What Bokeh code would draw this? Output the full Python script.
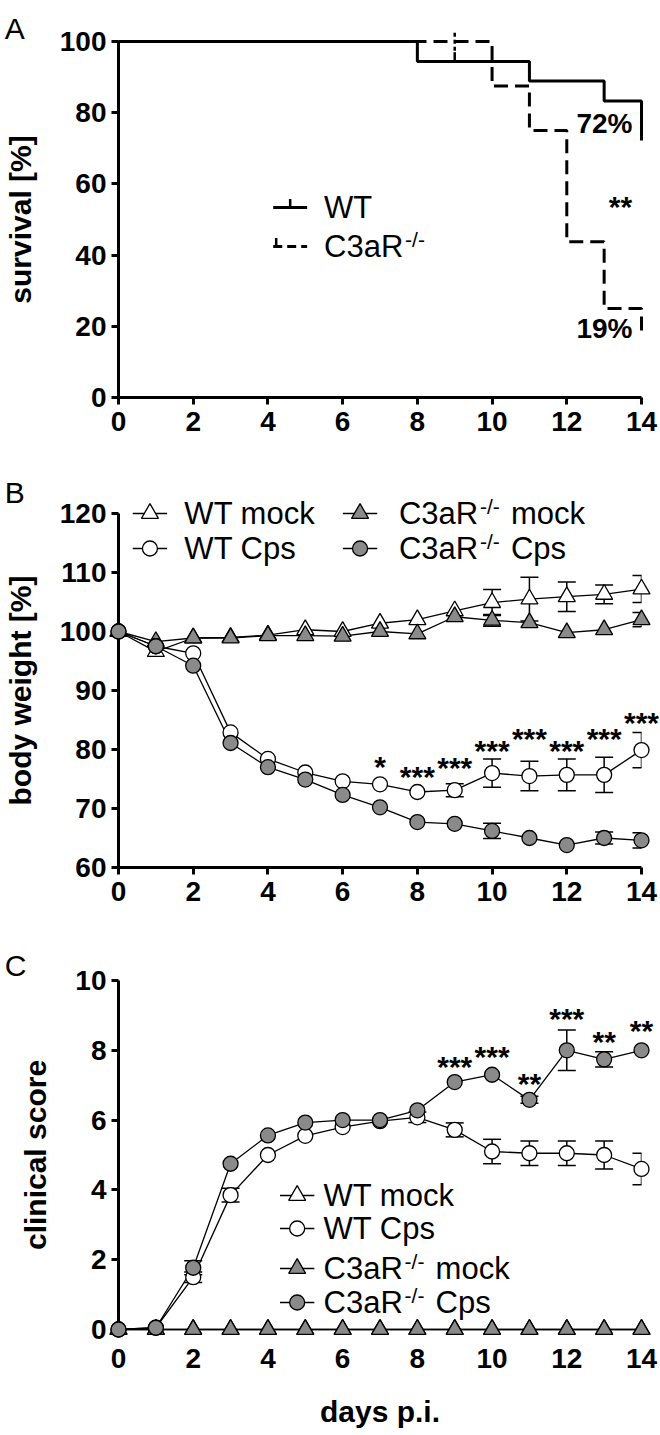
from bokeh.plotting import figure
from bokeh.models import (Range1d, LinearAxis, FixedTicker, ColumnDataSource,
                          Whisker, TeeHead)
from bokeh.layouts import column
from bokeh.embed import file_html
from bokeh.resources import INLINE
from bokeh.core.properties import value

# ---------------- data ----------------
days = list(range(15))

# Panel A: Kaplan-Meier survival
wt_surv_days = [0, 8, 11, 13, 14]
wt_surv = [100, 94.4, 88.9, 83.3, 72.2]
c3_surv_days = [0, 10, 11, 12, 13, 14]
c3_surv = [100, 87.5, 75.0, 43.75, 25.0, 18.75]
wt_censor_days = [9]
wt_censor_surv = [94.4]
c3_censor_days = [9]
c3_censor_surv = [100]

# Panel B: body weight [%]
wt_mock_bw = [100, 96.6, 98.9, 99.0, 99.4, 100.3, 100.0, 101.4, 102.0, 103.5, 104.9, 105.5, 105.9, 106.3, 107.2]
wt_mock_bw_err = [0, 0, 0, 0, 0, 0, 0, 0, 0, 0, 2.2, 3.7, 2.5, 1.6, 2.3]
c3_mock_bw = [100, 98.3, 98.9, 98.9, 99.3, 99.3, 99.2, 100.0, 99.6, 102.5, 101.9, 101.5, 99.8, 100.3, 102.0]
c3_mock_bw_err = [0, 0, 0, 0, 0, 0, 0, 0, 0, 0, 1.0, 0, 0, 0, 1.2]
wt_cps_bw = [100, 97.5, 96.3, 82.9, 78.4, 76.1, 74.6, 74.1, 72.8, 73.1, 76.0, 75.5, 75.7, 75.7, 79.9]
wt_cps_bw_err = [0, 0, 0, 0, 0, 0, 0, 0, 0, 1.1, 2.4, 2.5, 2.7, 3.0, 3.0]
c3_cps_bw = [100, 97.5, 94.2, 81.1, 77.0, 74.9, 72.3, 70.2, 67.7, 67.4, 66.2, 65.0, 63.8, 65.0, 64.6]
c3_cps_bw_err = [0, 0, 0, 0, 0, 0, 0, 0, 0, 0, 1.3, 0, 0, 1.0, 1.3]
bw_star_days = [7, 8, 9, 10, 11, 12, 13, 14]
bw_star_y = [77.4, 75.7, 77.3, 80.2, 82.2, 80.2, 82.2, 85.0]
bw_star_txt = ["*", "***", "***", "***", "***", "***", "***", "***"]

# Panel C: clinical score
wt_mock_cs = [0] * 15
c3_mock_cs = [0] * 15
wt_cps_cs = [0, 0.05, 1.5, 3.85, 5.0, 5.55, 5.8, 5.97, 6.08, 5.72, 5.1, 5.05, 5.05, 5.0, 4.6]
wt_cps_cs_err = [0, 0, 0.15, 0.2, 0, 0, 0, 0, 0.15, 0.2, 0.35, 0.35, 0.35, 0.4, 0.45]
c3_cps_cs = [0, 0.05, 1.77, 4.75, 5.56, 5.93, 6.0, 6.0, 6.28, 7.09, 7.3, 6.58, 8.0, 7.74, 8.0]
c3_cps_cs_err = [0, 0, 0.2, 0, 0, 0, 0, 0, 0, 0, 0, 0.1, 0.58, 0.22, 0]
cs_star_days = [9, 10, 11, 12, 13, 14]
cs_star_y = [7.58, 7.89, 7.12, 8.98, 8.3, 8.63]
cs_star_txt = ["***", "***", "**", "***", "**", "**"]

x_ticks = [0, 2, 4, 6, 8, 10, 12, 14]
a_yticks = [0, 20, 40, 60, 80, 100]
b_yticks = [60, 70, 80, 90, 100, 110, 120]
c_yticks = [0, 2, 4, 6, 8, 10]

# ---------------- layout / style ----------------
FONT = "Liberation Sans"
GRAY = "#8a8a8a"
FIG_W = 660
AXIS_PX = 117          # page x of day 0 (frame left)
RIGHT_PX = 641         # page x of day 14 (frame right)
PPD = (RIGHT_PX - AXIS_PX) / 14.0
OV = "overlay"         # draw data above the frame clip


def xd(page_x):
    return (page_x - AXIS_PX) / PPD


def make_fig(top, bot, v_hi, px_hi, v_lo, px_lo, yticks, ylabel,
             xlabel=None, show_xline=True, label_standoff=20, xlab_standoff=6,
             xaxis_label_standoff=20):
    scale = (px_lo - px_hi) / (v_hi - v_lo)
    p = figure(width=FIG_W, height=bot - top, x_range=Range1d(0, 14),
               y_range=Range1d(v_lo, v_hi), output_backend="svg",
               toolbar_location=None, title=None,
               x_axis_type=None, y_axis_type=None,
               min_border_left=AXIS_PX, min_border_right=FIG_W - RIGHT_PX,
               min_border_top=px_hi - top, min_border_bottom=bot - px_lo)
    p.outline_line_color = None
    p.background_fill_color = "white"
    p.border_fill_color = "white"

    def style(ax):
        ax.axis_line_width = 3
        ax.major_tick_line_width = 3
        ax.major_tick_out = 7
        ax.major_tick_in = 0
        ax.minor_tick_line_color = None
        ax.major_label_text_font = FONT
        ax.major_label_text_font_style = "bold"
        ax.major_label_text_font_size = "28px"
        ax.major_label_text_color = "black"
        ax.axis_label_text_font = FONT
        ax.axis_label_text_font_style = "bold"
        ax.axis_label_text_font_size = "30px"
        ax.axis_label_text_color = "black"

    xa = LinearAxis(ticker=FixedTicker(ticks=x_ticks))
    style(xa)
    xa.major_label_standoff = xlab_standoff
    if not show_xline:
        xa.axis_line_color = None
        xa.major_tick_line_color = None
    if xlabel:
        xa.axis_label = xlabel
        xa.axis_label_standoff = xaxis_label_standoff
    p.add_layout(xa, "below")

    ya = LinearAxis(ticker=FixedTicker(ticks=yticks), axis_label=ylabel)
    style(ya)
    ya.major_label_standoff = 5
    ya.axis_label_standoff = label_standoff
    p.add_layout(ya, "left")

    def yd(page_y):
        return v_lo + (px_lo - page_y) / scale
    return p, yd


def txt(p, x, y, s, size, bold=False, align="left", baseline="middle",
        xo=0, yo=0):
    p.text(x=[x], y=[y], text=[s], text_font=value(FONT),
           text_font_size=size, text_font_style="bold" if bold else "normal",
           text_align=align, text_baseline=baseline, x_offset=xo, y_offset=yo,
           text_color="black", level=OV)


def panel_letter(p, yd, letter, page_baseline):
    txt(p, xd(3), yd(page_baseline), letter, "30px", baseline="alphabetic")


def c3_label(p, x, y, rest):
    txt(p, x, y, "C3aR", "31px")
    txt(p, x, y, "-/-", "21px", xo=81, yo=-7)
    if rest:
        txt(p, x, y, rest, "31px", xo=112)


def markers(p, y, marker, fill, size):
    p.scatter(days, y, marker=marker, size=size, fill_color=fill,
              line_color="black", line_width=1.3, level=OV)


def whisk(p, y, err):
    xs = [d for d, e in zip(days, err) if e > 0]
    up = [v + e for v, e in zip(y, err) if e > 0]
    lo = [v - e for v, e in zip(y, err) if e > 0]
    src = ColumnDataSource(dict(x=xs, upper=up, lower=lo))
    p.add_layout(Whisker(source=src, base="x", upper="upper", lower="lower",
                         dimension="height", line_width=1.5, line_color="black",
                         upper_head=TeeHead(size=18, line_width=1.5),
                         lower_head=TeeHead(size=18, line_width=1.5)))


# ================= Panel A =================
pA, ydA = make_fig(0, 452, 100, 41, 0, 397, a_yticks, "survival [%]",
                   label_standoff=20, xlab_standoff=7)
pA.step(c3_surv_days, c3_surv, mode="after", line_width=3, line_color="black",
        line_dash="14 7", level=OV)
pA.step(wt_surv_days, wt_surv, mode="after", line_width=3, line_color="black",
        level=OV)
tick_len = 2.6
pA.segment(x0=wt_censor_days, y0=wt_censor_surv, x1=wt_censor_days,
           y1=[v + tick_len for v in wt_censor_surv], line_width=2.5,
           line_color="black", level=OV)
pA.segment(x0=c3_censor_days, y0=[v - tick_len for v in c3_censor_surv],
           x1=c3_censor_days, y1=[v + tick_len for v in c3_censor_surv],
           line_width=2.5, line_color="black", line_dash="4 3", level=OV)
# legend A
lgA_x0, lgA_x1, lgA_xt = xd(272), xd(306), xd(323)
rowA = [ydA(207), ydA(246)]
pA.segment(x0=[lgA_x0], y0=[rowA[0]], x1=[lgA_x1], y1=[rowA[0]], line_width=3,
           line_color="black", level=OV)
pA.segment(x0=[(lgA_x0 + lgA_x1) / 2], y0=[rowA[0]], x1=[(lgA_x0 + lgA_x1) / 2],
           y1=[rowA[0] + 2.4], line_width=2.5, line_color="black", level=OV)
pA.segment(x0=[lgA_x0], y0=[rowA[1]], x1=[lgA_x1], y1=[rowA[1]], line_width=3,
           line_color="black", line_dash="9 5", level=OV)
pA.segment(x0=[lgA_x0 + 0.08], y0=[rowA[1]], x1=[lgA_x0 + 0.08],
           y1=[rowA[1] + 2.4], line_width=2.5, line_color="black", level=OV)
txt(pA, lgA_xt, rowA[0], "WT", "31px")
c3_label(pA, lgA_xt, rowA[1], None)
# annotations A
txt(pA, xd(632), ydA(123), "72%", "28px", bold=True, align="right")
txt(pA, xd(632), ydA(328), "19%", "28px", bold=True, align="right")
txt(pA, xd(620), ydA(205), "**", "30px", bold=True, align="center", yo=1)
panel_letter(pA, ydA, "A", 28)

# ================= Panel B =================
pB, ydB = make_fig(452, 912, 120, 513, 60, 867, b_yticks, "body weight [%]",
                   label_standoff=20, xlab_standoff=7)
for y, e in [(wt_mock_bw, wt_mock_bw_err), (c3_mock_bw, c3_mock_bw_err),
             (wt_cps_bw, wt_cps_bw_err), (c3_cps_bw, c3_cps_bw_err)]:
    whisk(pB, y, e)
for y in [wt_mock_bw, c3_mock_bw, wt_cps_bw, c3_cps_bw]:
    pB.line(days, y, line_width=1.3, line_color="black", level=OV)
markers(pB, wt_mock_bw, "triangle", "white", 17)
markers(pB, c3_mock_bw, "triangle", GRAY, 17)
markers(pB, wt_cps_bw, "circle", "white", 15)
markers(pB, c3_cps_bw, "circle", GRAY, 15)
pB.text(x=bw_star_days, y=bw_star_y, text=bw_star_txt, text_font=value(FONT),
        text_font_size="30px", text_font_style="bold", text_align="center",
        text_baseline="middle", y_offset=2, level=OV)
# legend B
rowB = [ydB(513), ydB(548)]
colB = [(xd(148.5), xd(183)), (xd(359), xd(398))]
legB = [(0, 0, "triangle", "white", 17, "WT mock"),
        (0, 1, "circle", "white", 15, "WT Cps"),
        (1, 0, "triangle", GRAY, 17, "mock"),
        (1, 1, "circle", GRAY, 15, "Cps")]
for c, r, mk, fill, sz, lab in legB:
    mx, tx = colB[c]
    pB.segment(x0=[mx - 0.46], y0=[rowB[r]], x1=[mx + 0.46], y1=[rowB[r]],
               line_width=1.3, line_color="black", level=OV)
    pB.scatter([mx], [rowB[r]], marker=mk, size=sz, fill_color=fill,
               line_color="black", line_width=1.3, level=OV)
    if c == 0:
        txt(pB, tx, rowB[r], lab, "31px")
    else:
        c3_label(pB, tx, rowB[r], lab)
panel_letter(pB, ydB, "B", 492)

# ================= Panel C =================
pC, ydC = make_fig(912, 1435, 10, 980, 0, 1329, c_yticks, "clinical score",
                   xlabel="days p.i.", show_xline=False, label_standoff=20,
                   xlab_standoff=12, xaxis_label_standoff=24)
for y, e in [(wt_cps_cs, wt_cps_cs_err), (c3_cps_cs, c3_cps_cs_err)]:
    whisk(pC, y, e)
for y in [wt_mock_cs, c3_mock_cs, wt_cps_cs, c3_cps_cs]:
    pC.line(days, y, line_width=1.3, line_color="black", level=OV)
markers(pC, wt_mock_cs, "triangle", "white", 17)
markers(pC, c3_mock_cs, "triangle", GRAY, 17)
markers(pC, wt_cps_cs, "circle", "white", 15)
markers(pC, c3_cps_cs, "circle", GRAY, 15)
pC.text(x=cs_star_days, y=cs_star_y, text=cs_star_txt, text_font=value(FONT),
        text_font_size="30px", text_font_style="bold", text_align="center",
        text_baseline="middle", y_offset=2, level=OV)
# legend C
rowC = [ydC(1195), ydC(1228), ydC(1268), ydC(1302)]
mxC, txC = xd(296), xd(322.5)
legC = [("triangle", "white", 17, "WT mock", False),
        ("circle", "white", 15, "WT Cps", False),
        ("triangle", GRAY, 17, "mock", True),
        ("circle", GRAY, 15, "Cps", True)]
for r, (mk, fill, sz, lab, isc3) in enumerate(legC):
    pC.segment(x0=[mxC - 0.46], y0=[rowC[r]], x1=[mxC + 0.46], y1=[rowC[r]],
               line_width=1.3, line_color="black", level=OV)
    pC.scatter([mxC], [rowC[r]], marker=mk, size=sz, fill_color=fill,
               line_color="black", line_width=1.3, level=OV)
    if isc3:
        c3_label(pC, txC, rowC[r], lab)
    else:
        txt(pC, txC, rowC[r], lab, "31px")
panel_letter(pC, ydC, "C", 965)

layout = column(pA, pB, pC, spacing=0)
open("out.html", "w").write(file_html(layout, INLINE))
